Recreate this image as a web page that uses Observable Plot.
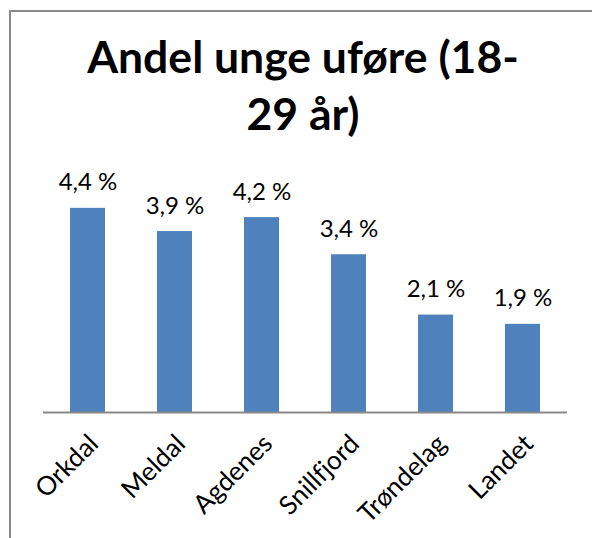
<!DOCTYPE html>
<html><head><meta charset="utf-8">
<script src="https://cdn.jsdelivr.net/npm/d3@7"></script>
<script src="https://cdn.jsdelivr.net/npm/@observablehq/plot@0.6"></script>
<style>
html,body{margin:0;padding:0;width:592px;height:538px;overflow:hidden;background:#fff;font-family:Lato,sans-serif;}
#frame{position:absolute;left:9px;top:10px;width:700px;height:700px;border-top:2px solid #898989;border-left:2px solid #898989;box-sizing:border-box;}
#title{position:absolute;left:9px;width:588px;top:27px;text-align:center;font:bold 44.5px/57px Lato,sans-serif;color:#000;}
#chart{position:absolute;left:0;top:150px;}
#chart svg text{font-variant-ligatures:none;font-feature-settings:"liga" 0;}
</style></head><body>
<div id="frame"></div>
<div id="title">Andel unge uføre (18-<br>29 år)</div>
<div id="chart"></div>
<script>
const categories = ["Orkdal", "Meldal", "Agdenes", "Snillfjord", "Trøndelag", "Landet"];
const values = [4.4, 3.9, 4.2, 3.4, 2.1, 1.9];
const valueLabels = ["4,4 %", "3,9 %", "4,2 %", "3,4 %", "2,1 %", "1,9 %"];

const data = categories.map((c, i) => ({cat: c, value: values[i], label: valueLabels[i]}));

const chart = Plot.plot({
  width: 592, height: 388,
  marginTop: 30, marginBottom: 126, marginLeft: 43, marginRight: 25,
  style: {fontFamily: "Lato, sans-serif", background: "transparent", color: "#000"},
  x: {domain: categories, paddingInner: 0.6, paddingOuter: 0.3, label: null},
  y: {domain: [0, 5], axis: null},
  marks: [
    Plot.barY(data, {x: "cat", y: "value", fill: "#4F81BD"}),
    Plot.ruleY([0], {stroke: "#898989", strokeWidth: 2}),
    Plot.text(data, {x: "cat", y: "value", text: "label", dy: -18, lineAnchor: "bottom", fontSize: 24, fill: "#000"}),
    Plot.axisX({tickRotate: -45, tickSize: 0, tickPadding: 27, dx: 6, fontSize: 26, fill: "#000", label: null})
  ]
});
document.getElementById("chart").appendChild(chart);
</script>
</body></html>
